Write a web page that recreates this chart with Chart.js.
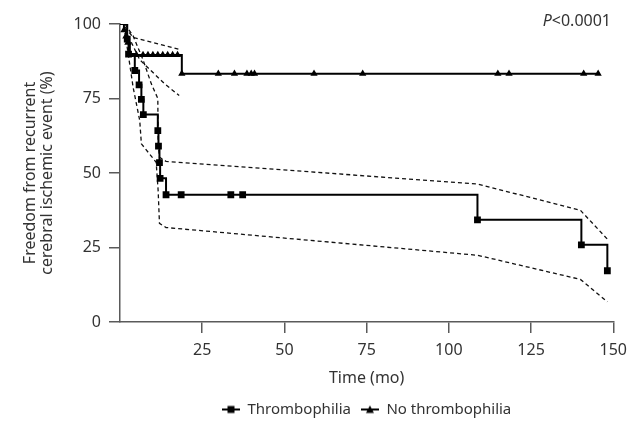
<!DOCTYPE html>
<html>
<head>
<meta charset="utf-8">
<script src="https://cdn.jsdelivr.net/npm/chart.js@4.4.1/dist/chart.umd.min.js"></script>
<style>
html,body{margin:0;padding:0;background:#fff;}
#wrap{width:635px;height:432px;position:relative;}
</style>
</head>
<body>
<div id="wrap"><canvas id="c"></canvas></div>
<script>
// ---- data ----
const thrombTime = [0, 2.2, 2.6, 4.5, 5.8, 6.5, 7.1, 11.5, 11.7, 12.0, 12.2, 14.0, 18.6, 33.7, 37.3, 108.7, 140.3, 148.2];
const thrombSurv = [100, 94.9, 89.9, 84.4, 79.6, 74.7, 69.6, 64.2, 59.0, 53.5, 48.2, 42.7, 42.7, 42.7, 42.7, 34.3, 25.9, 17.2];

const noThrombTime = [0, 1.2, 1.8, 2.4, 3.0, 5, 7, 8.5, 10, 11.5, 13, 14.5, 16, 17.5, 18.8, 29.9, 34.8, 38.6, 39.9, 40.9, 59.0, 73.8, 114.9, 118.3, 141.0, 145.4];
const noThrombSurv = [100, 97.9, 95.8, 93.7, 89.6, 89.6, 89.6, 89.6, 89.6, 89.6, 89.6, 89.6, 89.6, 89.6, 83.3, 83.3, 83.3, 83.3, 83.3, 83.3, 83.3, 83.3, 83.3, 83.3, 83.3, 83.3];

const thrombUpperTime = [1.5, 4, 7, 9.5, 11.5, 11.6, 12, 14, 108.7, 140, 148.2];
const thrombUpperVal  = [100, 96, 88, 80, 75, 60, 55.3, 53.9, 46.3, 37.5, 27.8];
const thrombLowerTime = [1.5, 2.5, 4, 6, 6.5, 11, 11.6, 12, 14, 108.7, 140, 148.2];
const thrombLowerVal  = [97, 89.9, 78.7, 67.6, 59.8, 53.6, 44.1, 33.1, 31.7, 22.4, 14.3, 6.8];

const noThrombUpperTime = [1.5, 4, 18.6];
const noThrombUpperVal  = [99, 95.5, 91.3];
const noThrombLowerTime = [2.5, 6, 13.5, 18];
const noThrombLowerVal  = [96, 88, 80, 76];

const xTicks = [0, 25, 50, 75, 100, 125, 150];
const yTicks = [0, 25, 50, 75, 100];
const seriesNames = ['Thrombophilia', 'No thrombophilia'];
const pText = '<0.0001';

// ---- helpers ----
const pts = (xs, ys) => xs.map((x, i) => ({x: x, y: ys[i]}));
const FONT = 'Noto Sans';
const TXT = '#333333';
const AX = '#5a5a5a';

function legendIcon(style) {
  const c = document.createElement('canvas');
  c.width = 18; c.height = 10;
  const g = c.getContext('2d');
  g.strokeStyle = '#000'; g.lineWidth = 2;
  g.beginPath(); g.moveTo(0, 5); g.lineTo(18, 5); g.stroke();
  g.fillStyle = '#000';
  if (style === 'rect') {
    g.fillRect(5.5, 1.5, 7, 7);
  } else {
    g.beginPath(); g.moveTo(9, 1); g.lineTo(13, 8.5); g.lineTo(5, 8.5); g.closePath(); g.fill();
  }
  return c;
}
const icons = [legendIcon('rect'), legendIcon('triangle')];

const ciStyle = {
  type: 'line', borderColor: '#111', borderWidth: 1.3, borderDash: [4, 3],
  pointRadius: 0, fill: false, tension: 0
};

const pPlugin = {
  id: 'pvalue',
  afterDraw(chart) {
    const ctx = chart.ctx;
    ctx.save();
    ctx.fillStyle = TXT;
    ctx.textBaseline = 'middle';
    ctx.font = '16px "' + FONT + '"';
    const w2 = ctx.measureText(pText).width;
    ctx.font = 'italic 16px "' + FONT + '"';
    const w1 = ctx.measureText('P').width;
    const right = 611;
    const y = 21;
    ctx.textAlign = 'left';
    ctx.fillText('P', right - w1 - w2, y);
    ctx.font = '16px "' + FONT + '"';
    ctx.fillText(pText, right - w2, y);
    ctx.restore();
  }
};

new Chart(document.getElementById('c'), {
  type: 'line',
  data: {
    datasets: [
      {
        label: seriesNames[0],
        data: pts(thrombTime, thrombSurv),
        stepped: 'before', borderColor: '#000', borderWidth: 2,
        pointStyle: 'rect', backgroundColor: '#000', pointBorderWidth: 0,
        pointRadius: c => c.dataIndex === 0 ? 0 : 4.8, fill: false
      },
      {
        label: seriesNames[1],
        data: pts(noThrombTime, noThrombSurv),
        stepped: 'before', borderColor: '#000', borderWidth: 2,
        pointStyle: 'triangle', backgroundColor: '#000', pointBorderWidth: 0,
        pointRadius: c => c.dataIndex === 0 ? 0 : 4.2, fill: false
      },
      Object.assign({label: 'ci1', data: pts(thrombUpperTime, thrombUpperVal)}, ciStyle),
      Object.assign({label: 'ci2', data: pts(thrombLowerTime, thrombLowerVal)}, ciStyle),
      Object.assign({label: 'ci3', data: pts(noThrombUpperTime, noThrombUpperVal)}, ciStyle),
      Object.assign({label: 'ci4', data: pts(noThrombLowerTime, noThrombLowerVal)}, ciStyle)
    ]
  },
  options: {
    responsive: true, maintainAspectRatio: false, animation: false,
    devicePixelRatio: 1,
    layout: {padding: {left: 0, right: 17, top: 24, bottom: 5}},
    plugins: {
      tooltip: {enabled: false},
      legend: {
        position: 'bottom', fullSize: false,
        labels: {
          usePointStyle: true, pointStyleWidth: 18, padding: 10,
          color: TXT, font: {family: FONT, size: 15},
          generateLabels: chart => chart.data.datasets.slice(0, 2).map((d, i) => ({
            text: d.label, pointStyle: icons[i], datasetIndex: i,
            fillStyle: '#000', strokeStyle: '#000', lineWidth: 0, fontColor: TXT
          }))
        }
      }
    },
    scales: {
      x: {
        type: 'linear', min: 0, max: 150,
        afterBuildTicks: s => { s.ticks = xTicks.map(v => ({value: v})); },
        afterFit: s => { s.height = 70; },
        ticks: {
          color: TXT, font: {family: FONT, size: 16}, padding: 8,
          callback: v => v === 0 ? '' : String(v), maxRotation: 0
        },
        grid: {
          drawOnChartArea: false, tickLength: 11, lineWidth: 1.5,
          tickColor: c => c.tick && c.tick.value === 0 ? 'rgba(0,0,0,0)' : AX
        },
        border: {display: true, color: AX, width: 1.5},
        title: {display: true, text: 'Time (mo)', color: TXT,
          font: {family: FONT, size: 16}, padding: {top: 0, bottom: 4}}
      },
      y: {
        type: 'linear', min: 0, max: 100,
        afterBuildTicks: s => { s.ticks = yTicks.map(v => ({value: v})); },
        afterFit: s => { s.width = 120; },
        ticks: {color: TXT, font: {family: FONT, size: 16}, padding: 8},
        grid: {drawOnChartArea: false, tickLength: 11, lineWidth: 1.5, tickColor: AX},
        border: {display: true, color: AX, width: 1.5},
        title: {display: true, text: ['Freedom from recurrent', 'cerebral ischemic event (%)'],
          color: TXT, font: {family: FONT, size: 16, lineHeight: 17/16}, padding: {top: 22, bottom: 0}}
      }
    }
  },
  plugins: [pPlugin]
});
</script>
</body>
</html>
